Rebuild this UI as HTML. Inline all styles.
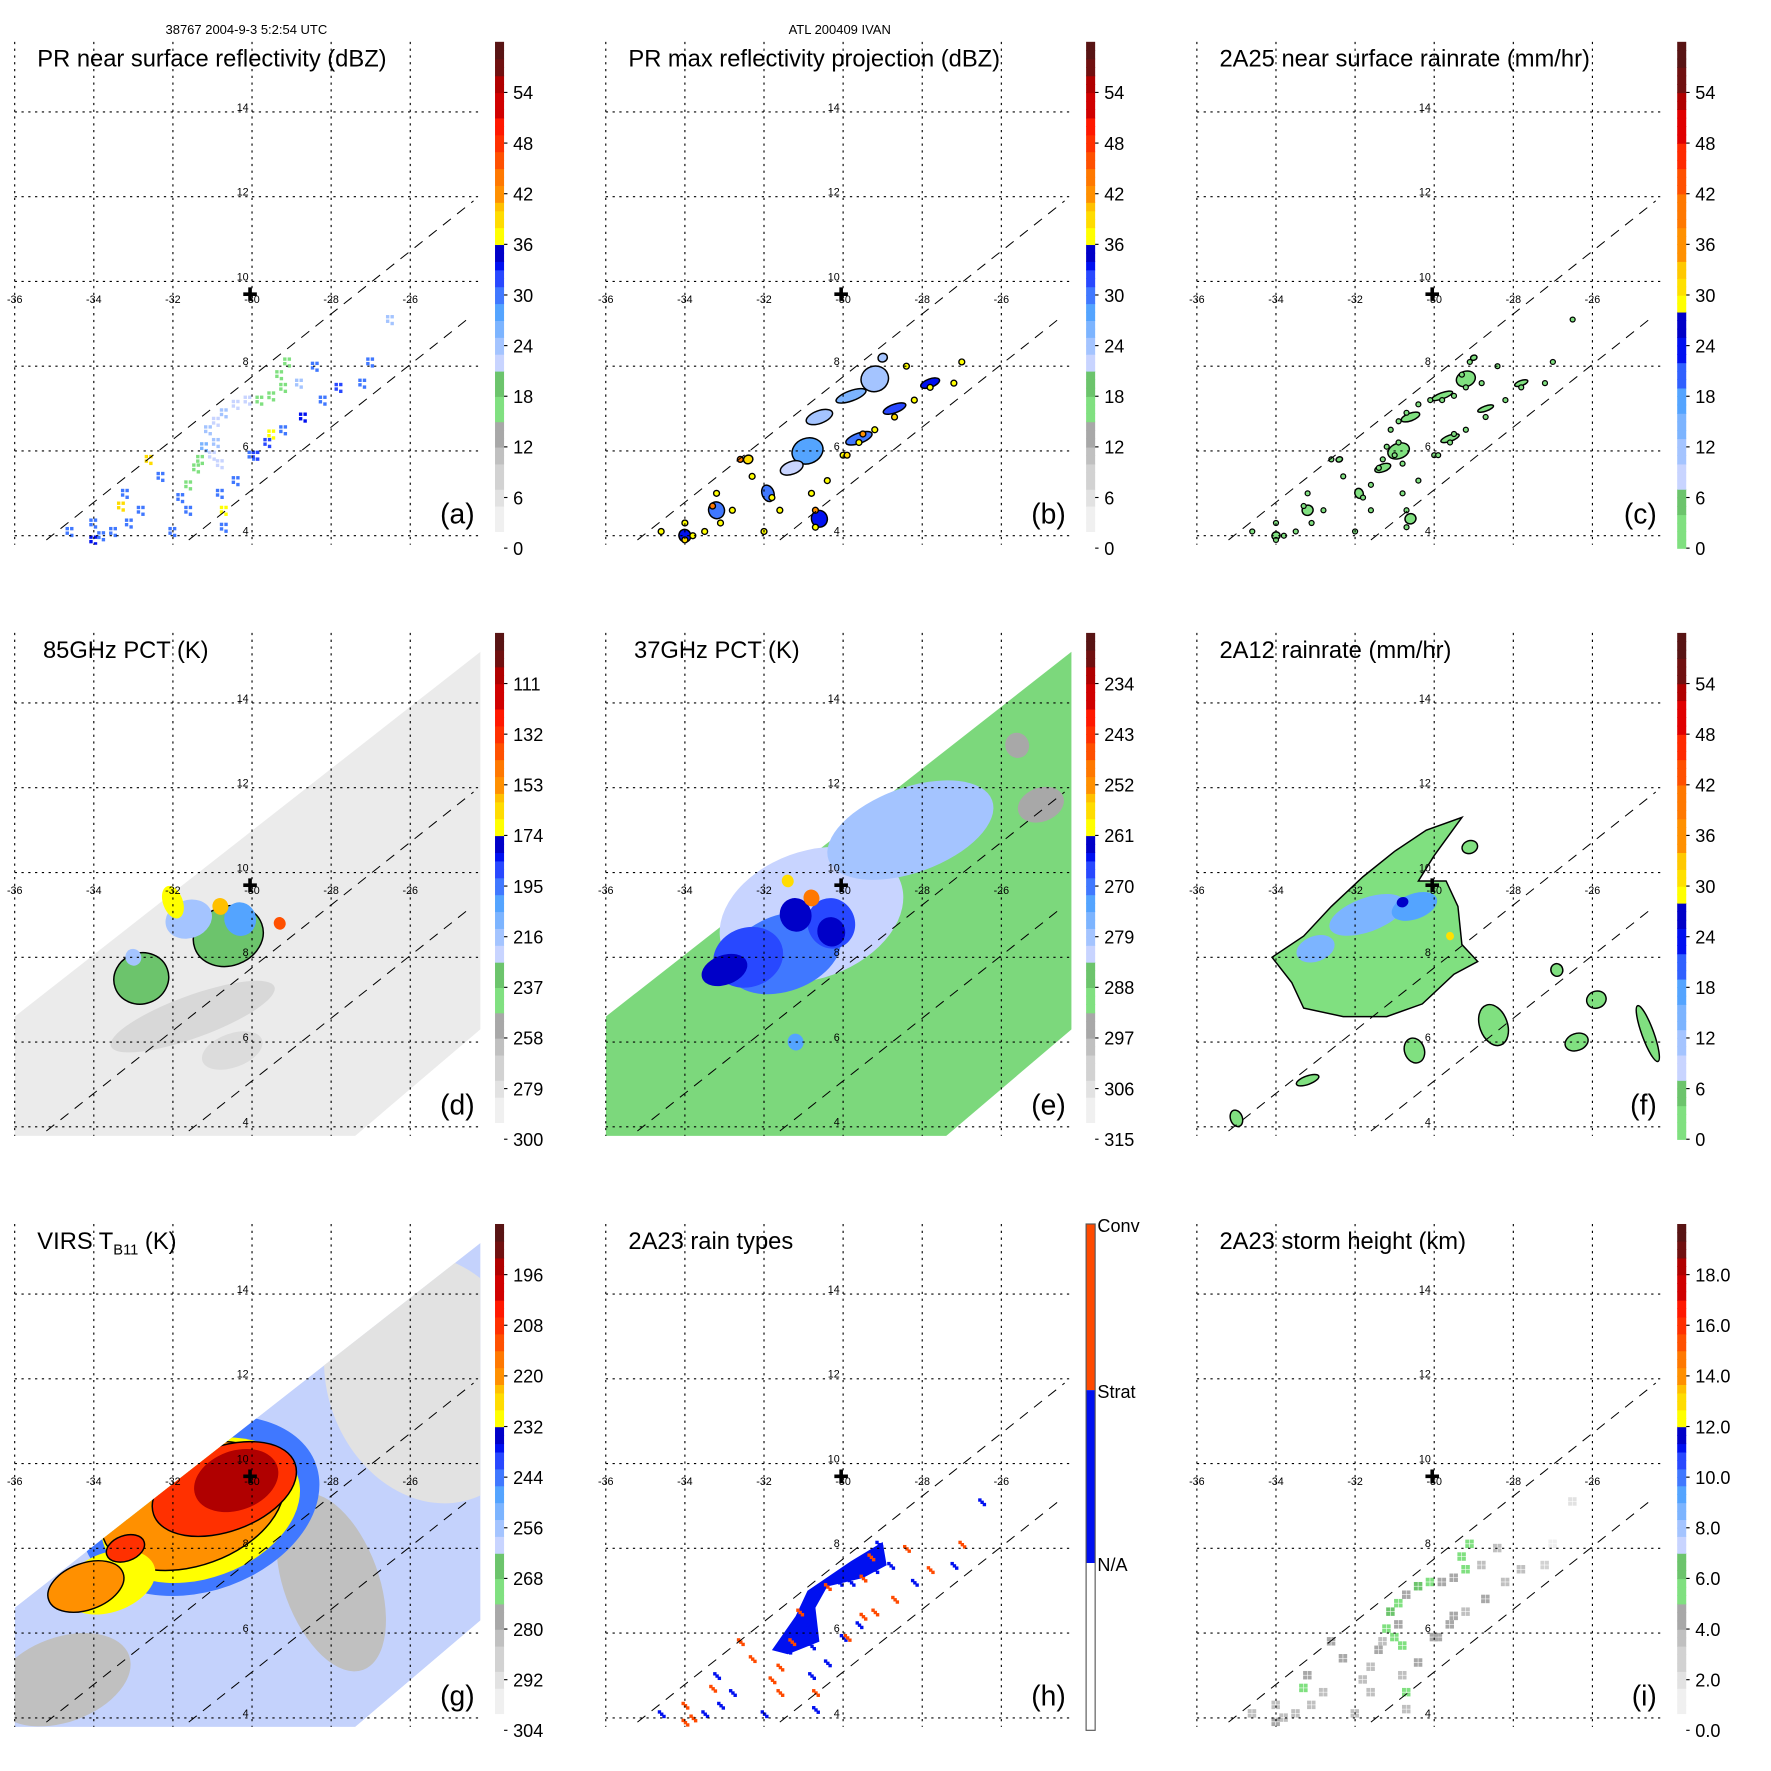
<!DOCTYPE html>
<html><head><meta charset="utf-8">
<style>
html,body{margin:0;padding:0;background:#fff;}
svg{display:block;}
text{font-family:"Liberation Sans",Arial,sans-serif;}
</style></head>
<body>
<svg id="fig" xmlns="http://www.w3.org/2000/svg" width="1771" height="1771" viewBox="0 0 1567 1567">
<rect x="0" y="0" width="1567" height="1567" fill="#fff"/>
<text x="218" y="30" font-size="11.5" text-anchor="middle">38767 2004-9-3 5:2:54 UTC</text>
<text x="743" y="30" font-size="11.5" text-anchor="middle">ATL 200409 IVAN</text>
</svg>
<script>
// ---------- data ----------
const lonTicks = [-36,-34,-32,-30,-28,-26];
const latTicks = [4,6,8,10,12,14];
const stormCenter = [-30.05, 9.7];
const tmiSwath = [[-36,3.7],[-36,6.6],[-24.1,15.3],[-24.1,6.4],[-27.5,3.7]];
const swathLines = [[[-35.2,3.9],[-24.4,11.9]],[[-31.6,3.9],[-24.5,9.15]]];
const dbzTicks = ['0','6','12','18','24','30','36','42','48','54'];
const rainTicks = ['0','6','12','18','24','30','36','42','48','54'];
const pct85Ticks = ['300','279','258','237','216','195','174','153','132','111'];
const pct37Ticks = ['315','306','297','288','279','270','261','252','243','234'];
const virsTicks = ['304','292','280','268','256','244','232','220','208','196'];
const heightTicks = ['0.0','2.0','4.0','6.0','8.0','10.0','12.0','14.0','16.0','18.0'];
// PR echo points: lon, lat, near-surface dBZ
const prLon = [-29.3,-29.1,-29.2,-29.5,-29.8,-30.1,-30.4,-30.7,-30.9,-31.1,-30.9,-31.0,-31.3,-30.8,-31.4,-31.6,-30.0,-29.6,-29.2,-28.7,-28.2,-27.8,-30.4,-30.8,-31.6,-32.0,-33.1,-33.8,-34.0,-33.2,-34.0,-33.3,-32.6,-31.8,-30.7,-30.7,-27.0,-26.5,-27.2,-28.4,-28.8,-31.2,-32.3,-32.8,-29.5,-29.9,-34.6,-33.5];
const prLat = [7.8,8.1,7.5,7.3,7.2,7.2,7.1,6.9,6.7,6.5,6.2,5.9,5.8,5.7,5.6,5.2,5.9,6.2,6.5,6.8,7.2,7.5,5.3,5.0,4.6,4.1,4.3,4.0,3.9,5.0,4.3,4.7,5.8,4.9,4.2,4.6,8.1,9.1,7.6,8.0,7.6,6.1,5.4,4.6,6.4,5.9,4.1,4.1];
const prDbz = [17,17,17,17,17,22,22,24,22,24,24,22,17,22,17,17,30,31,30,33,30,31,30,30,30,30,30,30,33,30,30,38,38,30,30,36,30,24,30,30,24,26,30,30,36,32,30,30];
// Panel (b) contoured blobs: lon, lat, rx, ry (deg), dBZ
const bLon = [-29.2,-29.8,-30.6,-30.9,-31.3,-29.6,-28.7,-27.8,-31.9,-33.2,-34.0,-30.6,-32.4,-29.0];
const bLat = [7.7,7.3,6.8,6.0,5.6,6.3,7.0,7.6,5.0,4.6,4.0,4.4,5.8,8.2];
const bRx = [0.35,0.4,0.35,0.4,0.3,0.35,0.3,0.25,0.15,0.2,0.15,0.2,0.12,0.12];
const bRy = [0.3,0.12,0.15,0.3,0.15,0.12,0.1,0.1,0.2,0.2,0.15,0.2,0.1,0.1];
const bDbz = [24,26,24,28,22,30,32,33,30,30,33,33,38,24];
// Panel (f) 2A12 main rain shield polygon
const fShield = [[-29.3,11.3],[-30.0,10.4],[-30.4,9.8],[-29.7,9.8],[-29.4,9.2],[-29.3,8.3],[-28.9,7.9],[-29.5,7.6],[-30.3,6.9],[-31.2,6.6],[-32.3,6.6],[-33.3,6.8],[-33.6,7.4],[-34.1,8.0],[-33.3,8.5],[-32.6,9.2],[-31.8,9.9],[-31.0,10.5],[-30.2,11.0]];
const fLon = [-31.7,-30.5,-33.0,-30.8,-29.6,-25.9,-29.1,-26.9,-30.5,-28.5,-26.4,-24.6,-33.2,-35.0];
const fLat = [9.0,9.2,8.2,9.3,8.5,7.0,10.6,7.7,5.8,6.4,6.0,6.2,5.1,4.2];
const fRx = [1.0,0.6,0.5,0.15,0.1,0.25,0.2,0.15,0.25,0.35,0.3,0.15,0.3,0.15];
const fRy = [0.4,0.3,0.3,0.12,0.1,0.2,0.15,0.15,0.3,0.5,0.2,0.7,0.1,0.2];
const fRain = [13,18,13,27,31,2,2,2,2,2,2,2,2,2];
// Panel (e) 37 GHz features: lon, lat, rx, ry, K
const eLon = [-30.8,-28.3,-31.5,-32.4,-30.3,-31.2,-33.0,-30.3,-30.8,-31.4,-25.0,-25.6,-31.2];
const eLat = [9.0,11.0,8.1,8.0,8.8,9.0,7.7,8.6,9.4,9.8,11.6,13.0,6.0];
const eRx = [2.4,2.2,1.5,0.9,0.6,0.4,0.6,0.35,0.2,0.15,0.6,0.3,0.2];
const eRy = [1.5,1.0,0.9,0.7,0.6,0.4,0.35,0.35,0.2,0.15,0.4,0.3,0.2];
const eK = [283,280,270,268,266,262,262,262,250,256,295,295,272];
// Panel (d) 85 GHz features
const dLon = [-32.8,-30.6,-31.6,-30.3,-32.0,-30.8,-29.3,-33.0];
const dLat = [7.5,8.5,8.9,8.9,9.3,9.2,8.8,8.0];
const dRx = [0.7,0.9,0.6,0.4,0.25,0.2,0.15,0.2];
const dRy = [0.6,0.7,0.45,0.4,0.4,0.2,0.15,0.2];
const dK = [237,237,216,200,174,160,140,216];
// Panel (g) VIRS features (drawn in order)
const gLon = [-25.5,-28.0,-34.8,-31.3,-31.3,-31.5,-33.6,-34.2,-30.7,-30.4,-33.2];
const gLat = [12.0,7.2,4.9,9.0,8.9,9.0,7.2,7.1,9.4,9.6,8.0];
const gRx = [2.6,1.2,1.8,3.1,2.6,2.4,1.2,1.0,1.9,1.1,0.5];
const gRy = [3.0,2.2,1.0,2.0,1.6,1.4,0.7,0.55,1.0,0.7,0.3];
const gK = [294,284,282,244,232,220,232,220,208,196,208];
// Panel (i) storm height points (km) at PR echoes
const iHeight = [5.5,5.8,5.2,4.8,4.5,5.6,6.2,4.2,5.6,6.0,4.4,5.4,3.8,5.6,4.4,3.9,4.6,4.2,3.9,4.2,3.6,4.0,4.5,4.1,4.0,3.8,4.1,4.0,4.3,4.5,3.8,5.9,4.5,4.0,3.9,5.9,1.5,2.0,2.5,3.5,4.0,5.8,4.8,3.9,4.2,4.5,3.8,4.0];

// ---------- helpers ----------
const NS = 'http://www.w3.org/2000/svg';
const svg = document.getElementById('fig');
function mk(tag, attrs, parent){ const e=document.createElementNS(NS,tag); for(const k in attrs) e.setAttribute(k,attrs[k]); (parent||svg).appendChild(e); return e; }
const dbzStops = [[0,'#ffffff'],[2.5,'#f0f0f0'],[5,'#e2e2e2'],[7.5,'#d2d2d2'],[10,'#c0c0c0'],[12.5,'#a8a8a8'],[15,'#80e080'],[18,'#6cc46c'],[21,'#c8d4ff'],[23,'#a4c4ff'],[25,'#7cb4ff'],[27,'#54a4ff'],[29,'#4078ff'],[31,'#2848ff'],[33,'#0010f0'],[34.5,'#0000c8'],[36,'#ffff00'],[38,'#ffdc00'],[40,'#ffc000'],[41.5,'#ff9000'],[43,'#ff7800'],[45,'#ff5000'],[47,'#ff3000'],[49,'#ff1800'],[51,'#d00000'],[54,'#b00000'],[56,'#701010'],[58,'#581414']];
const rainStops = [[0,'#80e080'],[4,'#6cc46c'],[7.5,'#c8d4ff'],[10,'#a4c4ff'],[13,'#7cb4ff'],[16,'#54a4ff'],[19,'#3060ff'],[22,'#0010f0'],[25,'#0000c8'],[28,'#ffff00'],[30,'#ffe000'],[32,'#ffc800'],[34,'#ff9000'],[38,'#ff7800'],[42,'#ff5000'],[45,'#ff2a00'],[48,'#e00000'],[52,'#b00000'],[54,'#701010'],[57,'#581414']];
function colorAt(stops,u){ let c=stops[0][1]; for(const s of stops){ if(u>=s[0]) c=s[1]; } return c; }

function makePanel(cfg){
  const ox=cfg.ox, oy=cfg.oy;
  const X = lon => ox+13+(lon+36)*35;
  const Y = lat => oy+474-(lat-4)*37.5;
  const g = mk('g',{});
  
  
  const cid = 'clip-'+cfg.letter;
  const cp = mk('clipPath',{id:cid},g);
  mk('rect',{x:ox+13,y:oy+37,width:412,height:445},cp);
  const plot = mk('g',{'clip-path':'url(#'+cid+')'},g);
  
  
  cfg.draw(plot, X, Y);
  for(const lon of lonTicks){
    const gl = mk('line',{x1:X(lon),x2:X(lon),y1:oy+37,y2:oy+482,stroke:'#000','stroke-width':1,'stroke-dasharray':'2,4'},g);
    
    
    const t = mk('text',{x:X(lon),y:oy+268,'font-size':9.5,'text-anchor':'middle'},g);
    t.textContent = lon;
    
    
  }
  for(const lat of latTicks){
    const gl = mk('line',{x1:ox+13,x2:ox+425,y1:Y(lat),y2:Y(lat),stroke:'#000','stroke-width':1,'stroke-dasharray':'2,4'},g);
    
    
    const t = mk('text',{x:X(-30)-3,y:Y(lat)-1,'font-size':9.5,'text-anchor':'end'},g);
    t.textContent = lat;
    
    
  }
  for(const L of swathLines){
    const sl = mk('line',{x1:X(L[0][0]),y1:Y(L[0][1]),x2:X(L[1][0]),y2:Y(L[1][1]),stroke:'#000','stroke-width':0.9,'stroke-dasharray':'9,7'},g);
    
    
  }
  const cx=X(stormCenter[0]), cy=Y(stormCenter[1]);
  const cr = mk('path',{d:`M${cx-6} ${cy}H${cx+6}M${cx} ${cy-6}V${cy+6}`,stroke:'#000','stroke-width':3.2},g);
  
  
  const tt = mk('text',{x:ox+cfg.tx,y:oy+59,'font-size':21},g);
  
  
  if(cfg.sub){
    tt.appendChild(document.createTextNode('VIRS T'));
    const s=mk('tspan',{'font-size':13,dy:5},tt); s.textContent='B11';
    const s2=mk('tspan',{dy:-5},tt); s2.textContent=' (K)';
  } else tt.textContent = cfg.title;
  const lt = mk('text',{x:ox+420,y:oy+463,'font-size':25,'text-anchor':'end'},g);
  lt.textContent='('+cfg.letter+')';
  
  
  const cb = mk('g',{},g);
  
  
  const bx=ox+438, bt=oy+37, bb=oy+485, bh=bb-bt;
  if(cfg.typeBar){
    const segs=[['#ff4a00',0,147],['#0010f0',147,300],['#ffffff',300,448]];
    for(const s of segs) mk('rect',{x:bx,y:bt+s[1],width:8,height:s[2]-s[1],fill:s[0]},cb);
    mk('rect',{x:bx,y:bt,width:8,height:bh,fill:'none',stroke:'#555','stroke-width':1},cb);
    const labs=[['Conv',0],['Strat',147],['N/A',300]];
    for(const l of labs){ const t=mk('text',{x:bx+10,y:bt+l[1]+7,'font-size':16},cb); t.textContent=l[0]; }
  } else {
    const n=60;
    for(let i=0;i<n;i++){
      mk('rect',{x:bx,y:bb-(i+1)*bh/n,width:8,height:bh/n+0.6,fill:colorAt(cfg.stops,i+0.5)},cb);
    }
    cfg.ticks.forEach((lab,i)=>{
      const y=bb-i*6*bh/60;
      mk('line',{x1:bx+8,x2:bx+11,y1:y,y2:y,stroke:'#000','stroke-width':1},cb);
      const t=mk('text',{x:bx+16,y:y+6,'font-size':16},cb); t.textContent=lab;
    });
  }
  return g;
}
function poly(parent, pts, X, Y, fill, stroke){ return mk('polygon',{points:pts.map(p=>X(p[0])+','+Y(p[1])).join(' '),fill:fill,stroke:stroke||'none','stroke-width':1.3},parent); }
function ell(parent,X,Y,lon,lat,rx,ry,fill,stroke){ return mk('ellipse',{cx:X(lon),cy:Y(lat),rx:rx*35,ry:ry*37.5,fill:fill,stroke:stroke||'none','stroke-width':1.3,transform:`rotate(-20 ${X(lon)} ${Y(lat)})`},parent); }

const R0=0,R1=523,R2=1046, C0=0,C1=523,C2=1046;

makePanel({ox:C0,oy:R0,letter:'a',name:'panel-pr-reflectivity',title:'PR near surface reflectivity (dBZ)',tx:33,ticks:dbzTicks,stops:dbzStops,
 draw:(p,X,Y)=>{ prLon.forEach((lon,i)=>{ const c=colorAt(dbzStops,prDbz[i]);
   for(let k=0;k<4;k++){ const r=mk('rect',{x:X(lon)-4+(k%2)*4,y:Y(prLat[i])-4+Math.floor(k/2)*4+(k==3?2:0),width:3,height:3,fill:c},p);
       } }); }});

makePanel({ox:C1,oy:R0,letter:'b',name:'panel-pr-max-reflectivity',title:'PR max reflectivity projection (dBZ)',tx:33,ticks:dbzTicks,stops:dbzStops,
 draw:(p,X,Y)=>{ bLon.forEach((lon,i)=>{ const e=ell(p,X,Y,lon,bLat[i],bRx[i],bRy[i],colorAt(dbzStops,bDbz[i]),'#000');
     });
   prLon.forEach((lon,i)=>{ if(prDbz[i]>=28){ const e=mk('circle',{cx:X(lon),cy:Y(prLat[i]),r:2.6,fill:colorAt(dbzStops,prDbz[i]+6),stroke:'#000','stroke-width':1.2},p);
       } }); }});

makePanel({ox:C2,oy:R0,letter:'c',name:'panel-2a25-rainrate',title:'2A25 near surface rainrate (mm/hr)',tx:33,ticks:rainTicks,stops:rainStops,
 draw:(p,X,Y)=>{ bLon.forEach((lon,i)=>{ const e=ell(p,X,Y,lon,bLat[i],bRx[i]*0.7,bRy[i]*0.6,colorAt(rainStops,2),'#000');
     });
   prLon.forEach((lon,i)=>{ const e=mk('circle',{cx:X(lon),cy:Y(prLat[i]),r:2.2,fill:'#80e080',stroke:'#000','stroke-width':1.1},p);
       }); }});

makePanel({ox:C0,oy:R1,letter:'d',name:'panel-85ghz-pct',title:'85GHz PCT (K)',tx:38,ticks:pct85Ticks,stops:dbzStops,
 draw:(p,X,Y)=>{ const conv=K=>(300-K)/210*60;
   const sw=poly(p,tmiSwath,X,Y,'#ebebeb');  
   ell(p,X,Y,-31.5,6.6,2.2,0.5,'#d8d8d8'); ell(p,X,Y,-30.5,5.8,0.8,0.4,'#dcdcdc');
   dLon.forEach((lon,i)=>{ const e=ell(p,X,Y,lon,dLat[i],dRx[i],dRy[i],colorAt(dbzStops,conv(dK[i])),i<2?'#000':'none');
       }); }});

makePanel({ox:C1,oy:R1,letter:'e',name:'panel-37ghz-pct',title:'37GHz PCT (K)',tx:38,ticks:pct37Ticks,stops:dbzStops,
 draw:(p,X,Y)=>{ const conv=K=>(315-K)/90*60;
   const sw=poly(p,tmiSwath,X,Y,'#7cd87c');  
   eLon.forEach((lon,i)=>{ const e=ell(p,X,Y,lon,eLat[i],eRx[i],eRy[i],colorAt(dbzStops,conv(eK[i])));
       }); }});

makePanel({ox:C2,oy:R1,letter:'f',name:'panel-2a12-rainrate',title:'2A12 rainrate (mm/hr)',tx:33,ticks:rainTicks,stops:rainStops,
 draw:(p,X,Y)=>{ const sh=poly(p,fShield,X,Y,'#80e080','#000');  
   fLon.forEach((lon,i)=>{ const e=ell(p,X,Y,lon,fLat[i],fRx[i],fRy[i],colorAt(rainStops,fRain[i]),fRain[i]<5?'#000':'none');
       }); }});

makePanel({ox:C0,oy:R2,letter:'g',name:'panel-virs-tb11',sub:true,tx:33,ticks:virsTicks,stops:dbzStops,
 draw:(p,X,Y)=>{ const conv=K=>(304-K)/120*60;
   const cid='swclip-g'; const cp=mk('clipPath',{id:cid},p); mk('polygon',{points:tmiSwath.map(q=>X(q[0])+','+Y(q[1])).join(' ')},cp);
   const q=mk('g',{'clip-path':'url(#'+cid+')'},p);
   const sw=poly(q,tmiSwath,X,Y,'#c4d2fc');  
   gLon.forEach((lon,i)=>{ const e=ell(q,X,Y,lon,gLat[i],gRx[i],gRy[i],colorAt(dbzStops,conv(gK[i])),(gK[i]==208||gK[i]==220)?'#000':'none');
       }); }});

makePanel({ox:C1,oy:R2,letter:'h',name:'panel-2a23-rain-types',title:'2A23 rain types',tx:33,typeBar:true,
 draw:(p,X,Y)=>{ const strat=[[-29.0,8.15],[-28.9,7.6],[-29.5,7.3],[-30.4,7.1],[-30.7,6.6],[-30.6,5.8],[-31.4,5.5],[-31.8,5.6],[-31.2,6.4],[-30.9,7.0],[-29.8,7.7]];
   const s=poly(p,strat,X,Y,'#0010f0');  
   prLon.forEach((lon,i)=>{ const c=prDbz[i]>=33?'#ff4a00':(i%3==0?'#ff4a00':'#0010f0');
     for(let k=0;k<3;k++){ const r=mk('rect',{x:X(lon)-3+k*2,y:Y(prLat[i])-3+k*2,width:3,height:3,fill:c},p);
         } }); }});

makePanel({ox:C2,oy:R2,letter:'i',name:'panel-2a23-storm-height',title:'2A23 storm height (km)',tx:33,ticks:heightTicks,stops:dbzStops,
 draw:(p,X,Y)=>{ prLon.forEach((lon,i)=>{ const c=colorAt(dbzStops,iHeight[i]*3);
   for(let k=0;k<4;k++){ const r=mk('rect',{x:X(lon)-4+(k%2)*4,y:Y(prLat[i])-4+Math.floor(k/2)*4,width:3.5,height:3.5,fill:c},p);
       } }); }});
</script>
</body></html>
